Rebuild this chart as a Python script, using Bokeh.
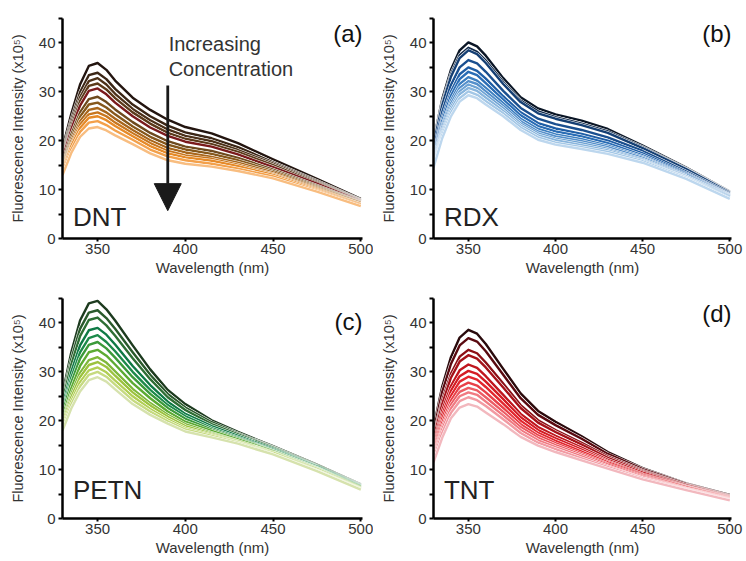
from bokeh.plotting import figure
from bokeh.layouts import gridplot
from bokeh.models import Range1d, FixedTicker, Arrow, NormalHead
from bokeh.core.properties import value
from bokeh.embed import file_html
from bokeh.resources import INLINE

WAVELENGTH = [330, 335, 340, 345, 350, 355, 360, 370, 380, 390, 400, 415, 430, 450, 475, 500]
X_TICKS = [350, 400, 450, 500]
Y_TICKS = [0, 10, 20, 30, 40]
Y_MINOR = [5, 15, 25, 35, 45]

# curves listed from lowest concentration (highest intensity) to highest concentration
DNT = [
    [18.5, 25.5, 31.5, 35.3, 35.9, 34.5, 32.3, 28.8, 26.3, 24.3, 22.8, 21.5, 19.5, 16.2, 12.2, 8.1],
    [17.7, 24.3, 29.9, 33.4, 33.9, 32.6, 30.6, 27.4, 25.0, 23.1, 21.7, 20.5, 18.7, 15.6, 11.8, 7.9],
    [17.2, 23.6, 28.9, 32.2, 32.8, 31.5, 29.6, 26.5, 24.2, 22.3, 21.0, 19.9, 18.1, 15.3, 11.6, 7.8],
    [16.7, 22.9, 28.1, 31.2, 31.7, 30.5, 28.7, 25.8, 23.5, 21.6, 20.4, 19.3, 17.7, 15.0, 11.4, 7.7],
    [16.3, 22.3, 27.2, 30.2, 30.7, 29.5, 27.8, 25.0, 22.7, 21.0, 19.8, 18.8, 17.2, 14.6, 11.2, 7.6],
    [15.6, 21.3, 25.8, 28.5, 29.0, 27.9, 26.4, 23.8, 21.6, 19.9, 18.8, 17.9, 16.5, 14.1, 10.8, 7.5],
    [15.1, 20.5, 24.9, 27.4, 27.8, 26.8, 25.4, 22.9, 20.8, 19.2, 18.2, 17.3, 16.0, 13.8, 10.6, 7.4],
    [14.7, 19.9, 24.0, 26.3, 26.7, 25.8, 24.5, 22.2, 20.1, 18.5, 17.6, 16.7, 15.5, 13.5, 10.4, 7.3],
    [14.3, 19.3, 23.3, 25.4, 25.8, 25.0, 23.7, 21.5, 19.5, 17.9, 17.0, 16.3, 15.1, 13.2, 10.2, 7.1],
    [13.9, 18.9, 22.6, 24.7, 25.0, 24.2, 23.0, 20.9, 18.9, 17.4, 16.6, 15.9, 14.8, 13.0, 10.0, 7.0],
    [13.5, 18.2, 21.8, 23.7, 24.0, 23.2, 22.1, 20.2, 18.2, 16.8, 16.0, 15.3, 14.3, 12.7, 9.8, 6.8],
    [13.0, 17.5, 20.8, 22.5, 22.8, 22.1, 21.1, 19.3, 17.4, 16.0, 15.3, 14.7, 13.8, 12.3, 9.6, 6.6],
]
DNT_COLORS = ["#231510", "#3b2616", "#4d3119", "#5c3a1a", "#7a1a1c", "#6e4a1e",
              "#86581c", "#a8661c", "#c8761e", "#e68a28", "#f3a04a", "#f8bd80"]

RDX = [
    [20.0, 28.5, 34.5, 38.5, 40.1, 39.3, 37.4, 32.8, 28.9, 26.6, 25.4, 24.1, 22.4, 19.0, 14.5, 9.6],
    [19.5, 27.7, 33.6, 37.5, 39.0, 38.2, 36.4, 32.0, 28.2, 26.0, 24.8, 23.5, 21.9, 18.7, 14.3, 9.5],
    [19.2, 27.3, 33.1, 36.9, 38.5, 37.7, 35.9, 31.6, 27.9, 25.6, 24.5, 23.2, 21.6, 18.5, 14.2, 9.4],
    [18.2, 25.9, 31.4, 35.0, 36.5, 35.8, 34.1, 30.2, 26.7, 24.5, 23.4, 22.2, 20.7, 17.9, 13.7, 9.2],
    [17.4, 24.7, 30.0, 33.6, 35.0, 34.3, 32.7, 29.1, 25.8, 23.6, 22.5, 21.4, 20.0, 17.4, 13.4, 9.0],
    [16.9, 24.0, 29.2, 32.6, 34.1, 33.4, 31.8, 28.4, 25.2, 23.0, 21.9, 20.9, 19.5, 17.0, 13.2, 8.9],
    [16.4, 23.2, 28.2, 31.6, 33.0, 32.3, 30.8, 27.7, 24.5, 22.4, 21.3, 20.3, 19.0, 16.7, 13.0, 8.8],
    [16.0, 22.7, 27.6, 30.8, 32.2, 31.6, 30.1, 27.1, 24.0, 21.9, 20.9, 19.9, 18.7, 16.5, 12.8, 8.7],
    [15.6, 22.1, 26.9, 30.1, 31.5, 30.8, 29.4, 26.6, 23.5, 21.5, 20.4, 19.5, 18.3, 16.2, 12.7, 8.6],
    [15.3, 21.6, 26.3, 29.5, 30.8, 30.2, 28.8, 26.1, 23.1, 21.1, 20.1, 19.1, 18.0, 16.0, 12.5, 8.5],
    [14.9, 21.1, 25.7, 28.7, 30.1, 29.4, 28.1, 25.6, 22.7, 20.7, 19.6, 18.7, 17.7, 15.8, 12.4, 8.3],
    [14.5, 20.5, 25.0, 28.0, 29.3, 28.7, 27.4, 25.0, 22.2, 20.2, 19.2, 18.3, 17.3, 15.5, 12.2, 8.1],
]
RDX_COLORS = ["#0b1626", "#10294a", "#153f73", "#1a4f8f", "#1f5ea6", "#2a6db5",
              "#3d7fc0", "#5590cb", "#6ea3d4", "#88b5dd", "#a3c7e6", "#bdd7ee"]

PETN = [
    [25.5, 34.0, 40.5, 44.0, 44.5, 42.8, 40.5, 35.4, 30.5, 26.3, 23.4, 20.1, 17.7, 14.8, 11.0, 7.0],
    [24.6, 32.6, 38.8, 42.1, 42.6, 41.0, 38.8, 34.0, 29.4, 25.5, 22.7, 19.7, 17.4, 14.6, 10.9, 6.9],
    [23.9, 31.5, 37.3, 40.6, 41.1, 39.5, 37.4, 32.8, 28.5, 24.8, 22.2, 19.3, 17.2, 14.5, 10.8, 6.8],
    [22.9, 30.0, 35.4, 38.5, 39.0, 37.6, 35.6, 31.2, 27.3, 23.9, 21.4, 18.9, 16.9, 14.3, 10.7, 6.7],
    [22.1, 28.8, 34.0, 36.9, 37.5, 36.1, 34.2, 30.0, 26.3, 23.2, 20.9, 18.5, 16.6, 14.1, 10.6, 6.6],
    [21.5, 27.8, 32.7, 35.5, 36.1, 34.8, 32.9, 28.9, 25.5, 22.6, 20.4, 18.2, 16.4, 13.9, 10.4, 6.5],
    [20.7, 26.6, 31.2, 34.0, 34.5, 33.3, 31.5, 27.7, 24.6, 21.9, 19.8, 17.9, 16.2, 13.8, 10.3, 6.4],
    [20.0, 25.5, 29.8, 32.4, 33.0, 31.9, 30.1, 26.5, 23.6, 21.2, 19.3, 17.5, 15.9, 13.6, 10.2, 6.3],
    [19.5, 24.8, 28.9, 31.4, 32.0, 31.0, 29.2, 25.8, 23.1, 20.8, 18.9, 17.3, 15.8, 13.5, 10.1, 6.2],
    [19.0, 24.0, 27.9, 30.3, 30.9, 29.9, 28.2, 25.0, 22.4, 20.3, 18.5, 17.1, 15.6, 13.4, 9.9, 6.1],
    [18.5, 23.3, 27.0, 29.4, 30.0, 29.0, 27.4, 24.2, 21.9, 19.9, 18.2, 16.9, 15.5, 13.2, 9.8, 6.0],
    [18.0, 22.5, 26.0, 28.3, 28.9, 28.0, 26.4, 23.4, 21.2, 19.4, 17.8, 16.6, 15.3, 13.1, 9.7, 5.9],
]
PETN_COLORS = ["#1d3b1f", "#2a5a2c", "#2e6e34", "#0f7a45", "#1d8a4a", "#3c9a3a",
               "#5caa32", "#7fb83a", "#9cc23e", "#b2cf55", "#c6da80", "#d6e2ad"]

TNT = [
    [18.6, 27.0, 33.0, 37.0, 38.6, 37.8, 35.7, 30.6, 25.6, 22.0, 19.8, 16.8, 13.6, 10.3, 7.2, 4.8],
    [17.8, 25.9, 31.6, 35.4, 36.9, 36.2, 34.2, 29.4, 24.6, 21.2, 19.1, 16.3, 13.2, 10.1, 7.1, 4.7],
    [16.7, 24.2, 29.6, 33.1, 34.5, 33.8, 31.9, 27.6, 23.2, 20.1, 18.1, 15.5, 12.7, 9.8, 6.9, 4.6],
    [16.2, 23.4, 28.8, 32.1, 33.4, 32.7, 30.9, 26.8, 22.6, 19.6, 17.7, 15.1, 12.4, 9.6, 6.8, 4.5],
    [15.3, 22.1, 27.1, 30.3, 31.5, 30.8, 29.1, 25.3, 21.4, 18.7, 16.9, 14.5, 12.0, 9.4, 6.6, 4.4],
    [14.7, 21.2, 26.1, 29.1, 30.2, 29.6, 28.0, 24.4, 20.7, 18.1, 16.4, 14.1, 11.7, 9.1, 6.5, 4.3],
    [14.1, 20.4, 25.1, 28.0, 29.0, 28.4, 26.9, 23.5, 20.0, 17.5, 15.9, 13.7, 11.5, 8.9, 6.4, 4.2],
    [13.6, 19.6, 24.1, 26.9, 27.8, 27.2, 25.8, 22.6, 19.3, 17.0, 15.4, 13.3, 11.2, 8.7, 6.2, 4.1],
    [13.1, 18.8, 23.3, 25.9, 26.7, 26.2, 24.8, 21.8, 18.7, 16.5, 15.0, 13.0, 11.0, 8.5, 6.1, 4.0],
    [12.6, 18.2, 22.5, 25.0, 25.8, 25.3, 23.9, 21.1, 18.1, 16.0, 14.6, 12.7, 10.7, 8.3, 6.0, 3.9],
    [12.1, 17.5, 21.6, 24.0, 24.8, 24.2, 23.0, 20.3, 17.5, 15.5, 14.2, 12.3, 10.5, 8.2, 5.9, 3.8],
    [11.5, 16.5, 20.5, 22.7, 23.4, 22.9, 21.7, 19.3, 16.7, 14.9, 13.6, 11.9, 10.2, 8.0, 5.8, 3.7],
]
TNT_COLORS = ["#2a0a0c", "#5a0a10", "#8c1016", "#a51219", "#c0161e", "#d41c24",
              "#e2262e", "#e84048", "#ec5c64", "#f07a82", "#f29aa2", "#f2b8be"]

FONT = "Liberation Sans"


def make_panel(curves, colors, name, letter, name_y, letter_y,
               width, height, left, right, top, bottom):
    p = figure(width=width, height=height, output_backend="svg", toolbar_location=None,
               x_range=Range1d(330, 501), y_range=Range1d(0, 45),
               min_border_left=left, min_border_right=right,
               min_border_top=top, min_border_bottom=bottom)
    p.outline_line_color = None
    p.grid.visible = False
    p.background_fill_color = "white"
    p.border_fill_color = "white"

    p.xaxis.ticker = FixedTicker(ticks=X_TICKS)
    p.yaxis.ticker = FixedTicker(ticks=Y_TICKS, minor_ticks=Y_MINOR)
    p.xaxis.axis_label = "Wavelength (nm)"
    p.yaxis.axis_label = "Fluorescence Intensity (x10\u2075)"
    for ax in (p.xaxis, p.yaxis):
        ax.axis_line_width = 2.5
        ax.axis_line_color = "black"
        ax.major_tick_line_width = 2
        ax.minor_tick_line_width = 2
        ax.major_tick_line_color = "black"
        ax.minor_tick_line_color = "black"
        ax.major_tick_in = 0
        ax.minor_tick_in = 0
        ax.major_label_text_font = FONT
        ax.major_label_text_font_size = "15px"
        ax.major_label_text_color = "#333333"
        ax.axis_label_text_font = FONT
        ax.axis_label_text_font_style = "normal"
        ax.axis_label_text_color = "#333333"
    p.xaxis.major_tick_out = 3
    p.xaxis.major_label_standoff = 2
    p.xaxis.axis_label_standoff = 2
    p.xaxis.axis_label_text_font_size = "15px"
    p.yaxis.major_tick_out = 4
    p.yaxis.minor_tick_out = 4
    p.yaxis.major_label_standoff = 3
    p.yaxis.axis_label_standoff = 10
    p.yaxis.axis_label_text_font_size = "14.5px"

    # darkest (top) curve first, lightest drawn last
    for i in range(len(curves)):
        p.line(WAVELENGTH, curves[i], line_color="white", line_width=3.4, line_join="round")
        p.line(WAVELENGTH, curves[i], line_color=colors[i], line_width=2.4, line_join="round")

    p.text(x=[336], y=[name_y], text=[name], text_font=value(FONT), text_font_size="26px",
           text_color="#222222", text_align="left", text_baseline="middle")
    p.text(x=[501], y=[letter_y], text=[letter], text_font=value(FONT), text_font_size="24px",
           text_color="#111111", text_align="right", text_baseline="middle")
    return p


pa = make_panel(DNT, DNT_COLORS, "DNT", "(a)", 4.5, 42.0, 373, 280, 62, 11, 18, 42)
pb = make_panel(RDX, RDX_COLORS, "RDX", "(b)", 4.3, 42.0, 371, 280, 60, 13, 18, 42)
pc = make_panel(PETN, PETN_COLORS, "PETN", "(c)", 5.9, 40.3, 373, 279, 62, 11, 18, 41)
pd = make_panel(TNT, TNT_COLORS, "TNT", "(d)", 5.9, 42.0, 371, 279, 60, 13, 18, 41)

pa.text(x=[390.5, 390.5], y=[39.7, 34.6], text=["Increasing", "Concentration"],
        text_font=value(FONT), text_font_size="20px", text_color="#333333",
        text_align="left", text_baseline="middle")
pa.add_layout(Arrow(end=NormalHead(size=27, fill_color="#1a1a1a", line_color="#1a1a1a"),
                    x_start=390, y_start=31.3, x_end=390, y_end=5.7,
                    line_width=2.8, line_color="#1a1a1a"))

grid = gridplot([[pa, pb], [pc, pd]], toolbar_location=None)

with open("out.html", "w") as f:
    f.write(file_html(grid, INLINE))
